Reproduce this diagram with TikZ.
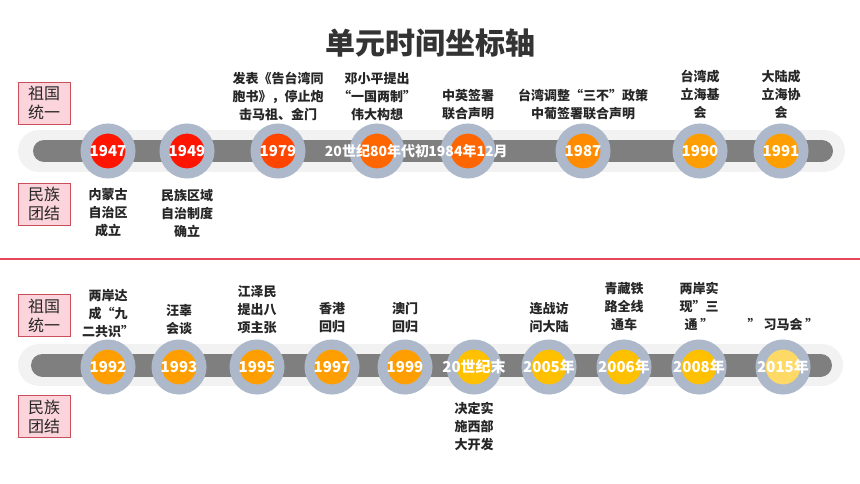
\documentclass[tikz,border=0pt]{standalone}
\usepackage{fontspec}
\setmainfont{Noto Sans CJK SC}
\usetikzlibrary{positioning}
\definecolor{barlight}{HTML}{F2F2F2}
\definecolor{bardark}{HTML}{7F7F7F}
\definecolor{ringgray}{HTML}{ADB9CA}
\definecolor{textgray}{HTML}{262626}
\definecolor{titlegray}{HTML}{333333}
\definecolor{tagred}{HTML}{C9505A}
\definecolor{tagpink}{HTML}{FBD5DB}
\definecolor{sepred}{HTML}{E8475A}
\definecolor{red1}{HTML}{FF1500}
\definecolor{red2}{HTML}{FF4500}
\definecolor{orange1}{HTML}{FF6600}
\definecolor{orange2}{HTML}{FF8C00}
\definecolor{orange3}{HTML}{FF9E00}
\definecolor{gold1}{HTML}{FFC000}
\definecolor{gold2}{HTML}{FFD966}
\begin{document}
\begin{tikzpicture}[x = 1pt, y = -1pt, node distance = 2pt,
		dot/.style = {circle, minimum size = 45pt, inner sep = 0pt, line width = 10pt, draw = ringgray, fill = #1},
		year/.style = {text = white, font = \fontsize{15}{15}\selectfont\bfseries, inner sep = 0pt},
		event/.style = {align = center, text = textgray, font = \fontsize{13}{18}\selectfont\bfseries, inner sep = 1pt},
		tag/.style = {draw = tagred, fill = tagpink, line width = 0.8pt, align = center, minimum width = 52pt, minimum height = 42pt, inner sep = 0pt, text = textgray, font = \fontsize{16}{19}\selectfont}]
			\useasboundingbox (0,0) rectangle (860,484);
			\node[text = titlegray, font = \fontsize{30}{30}\selectfont\bfseries] (title) at (430,43) {单元时间坐标轴};
			\node[tag] (unify1) at (44,103) {祖国\\统一};
			\node[tag] (unite1) at (44,204) {民族\\团结};
			\draw[barlight, line width = 42pt, line cap = round] (39,151) -- (824,151);
			\draw[bardark, line width = 22pt, line cap = round] (44,151) -- (822,151);
			\node[dot = red1] (c1947) at (108,151) {};
			\node[dot = red1] (c1949) at (187,151) {};
			\node[dot = red2] (c1979) at (278,151) {};
			\node[dot = orange1] (c80s) at (377,151) {};
			\node[dot = orange1] (c1984) at (468,151) {};
			\node[dot = orange2] (c1987) at (583,151) {};
			\node[dot = orange3] (c1990) at (700,151) {};
			\node[dot = orange3] (c1991) at (781,151) {};
			\node[year] (y1947) at (c1947) {1947};
			\node[year] (y1949) at (c1949) {1949};
			\node[year] (y1979) at (c1979) {1979};
			\node[year, font = \fontsize{14}{14}\selectfont\bfseries] (y80s) at (c80s) {20世纪80年代初};
			\node[year, font = \fontsize{14}{14}\selectfont\bfseries] (y1984) at (c1984) {1984年12月};
			\node[year] (y1987) at (c1987) {1987};
			\node[year] (y1990) at (c1990) {1990};
			\node[year] (y1991) at (c1991) {1991};
			\node[event, below = 9pt of c1947] (e1947) {内蒙古\\自治区\\成立};
			\node[event, below = 10pt of c1949] (e1949) {民族区域\\自治制度\\确立};
			\node[event, above = of c1979] (e1979) {发表《告台湾同\\胞书》，停止炮\\击马祖、金门};
			\node[event, above = of c80s] (e80s) {邓小平提出\\“一国两制”\\伟大构想};
			\node[event, above = of c1984] (e1984) {中英签署\\联合声明};
			\node[event, above = of c1987] (e1987) {台湾调整“三不”政策\\中葡签署联合声明};
			\node[event, above = 4pt of c1990] (e1990) {台湾成\\立海基\\会};
			\node[event, above = 4pt of c1991] (e1991) {大陆成\\立海协\\会};
			\draw[sepred, line width = 1.5pt] (0,259) -- (860,259);
			\node[tag] (unify2) at (44,315.5) {祖国\\统一};
			\node[tag] (unite2) at (44,416.5) {民族\\团结};
			\draw[barlight, line width = 42pt, line cap = round] (39,365) -- (822,365);
			\draw[bardark, line width = 23pt, line cap = round] (42.5,365) -- (820.5,365);
			\node[dot = orange3] (c1992) at (108,367) {};
			\node[dot = orange3] (c1993) at (179,367) {};
			\node[dot = orange3] (c1995) at (257,367) {};
			\node[dot = orange3] (c1997) at (332,367) {};
			\node[dot = orange3] (c1999) at (405,367) {};
			\node[dot = gold1] (c2000) at (474,367) {};
			\node[dot = gold1] (c2005) at (549,367) {};
			\node[dot = gold1] (c2006) at (624,367) {};
			\node[dot = gold1] (c2008) at (699,367) {};
			\node[dot = gold2] (c2015) at (783,367) {};
			\node[year] (y1992) at (c1992) {1992};
			\node[year] (y1993) at (c1993) {1993};
			\node[year] (y1995) at (c1995) {1995};
			\node[year] (y1997) at (c1997) {1997};
			\node[year] (y1999) at (c1999) {1999};
			\node[year] (y2000) at (c2000) {20世纪末};
			\node[year] (y2005) at (c2005) {2005年};
			\node[year] (y2006) at (c2006) {2006年};
			\node[year] (y2008) at (c2008) {2008年};
			\node[year] (y2015) at (c2015) {2015年};
			\node[event, above = 1pt of c1992] (e1992) {两岸达\\成“九\\二共识”};
			\node[event, above = 4pt of c1993] (e1993) {汪辜\\会谈};
			\node[event, above = 5pt of c1995] (e1995) {江泽民\\提出八\\项主张};
			\node[event, above = 5pt of c1997] (e1997) {香港\\回归};
			\node[event, above = 5pt of c1999] (e1999) {澳门\\回归};
			\node[event, below = 6pt of c2000] (e2000) {决定实\\施西部\\大开发};
			\node[event, above = 6pt of c2005] (e2005) {连战访\\问大陆};
			\node[event, above = 8pt of c2006] (e2006) {青藏铁\\路全线\\通车};
			\node[event, above = 8pt of c2008] (e2008) {两岸实\\现”三\\通 ”};
			\node[event, above = 8pt of c2015] (e2015) {” 习马会 ”};
		\end{tikzpicture}
\end{document}
